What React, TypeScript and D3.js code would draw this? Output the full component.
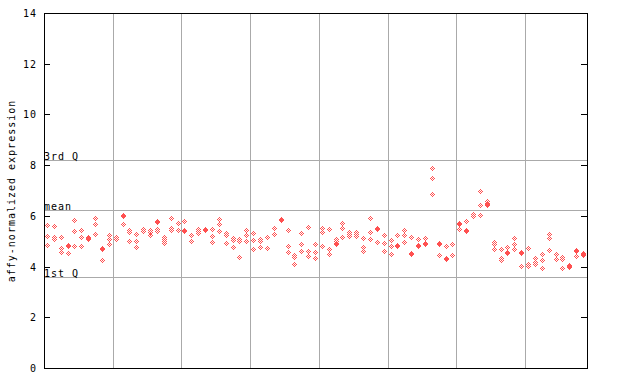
import React from 'react';
import * as d3 from 'd3';

const yTicks = [0, 2, 4, 6, 8, 10, 12, 14];
const statLabels = ['3rd Q', 'mean', '1st Q'];
const statValues = [8.22, 6.23, 3.6];
const gridBreaks = [10, 20, 30, 40, 50, 60, 70];
const yTitle = 'affy-normalized expression';

const samples: number[][] = [
  [5.64, 5.24, 4.88],
  [5.63, 5.18, 5.1],
  [5.19, 4.77, 4.6],
  [4.88, 4.84, 4.56],
  [5.85, 5.44, 4.85],
  [5.48, 5.17, 4.84],
  [5.18, 5.14, 5.1],
  [5.94, 5.71, 5.31],
  [4.76, 4.72, 4.26],
  [5.27, 5.11, 4.92],
  [5.18, 5.11],
  [6.06, 6.02, 5.71],
  [5.47, 5.39, 5.04],
  [5.31, 5.04, 4.8],
  [5.52, 5.44],
  [5.45, 5.37, 5.27],
  [5.82, 5.78, 5.5, 5.42],
  [5.19, 5.11, 5.04, 4.96],
  [5.94, 5.55, 5.47],
  [5.75, 5.47],
  [5.82, 5.46, 5.42],
  [5.27, 5.04],
  [5.51, 5.43, 5.35],
  [5.5, 5.46],
  [5.51, 5.23, 5.0],
  [5.9, 5.71, 5.43],
  [5.35, 5.27, 4.96],
  [5.15, 5.07, 4.8],
  [5.11, 5.04, 4.4],
  [5.47, 5.27, 5.04],
  [5.35, 5.07, 4.72],
  [5.11, 5.04, 4.8],
  [5.19, 4.76],
  [5.55, 5.31],
  [5.89, 5.85],
  [5.47, 4.84, 4.6],
  [4.48, 4.4, 4.13],
  [5.35, 4.92, 4.64],
  [5.59, 4.64, 4.44],
  [4.92, 4.6, 4.37],
  [5.55, 5.39, 4.84],
  [5.51, 4.72, 4.52],
  [5.11, 5.04, 4.96, 4.92],
  [5.75, 5.55, 5.19],
  [5.39, 5.31, 5.23],
  [5.39, 5.31, 5.23],
  [5.15, 4.8, 4.64],
  [5.94, 5.39, 5.11],
  [5.54, 5.5, 5.0],
  [5.27, 4.96, 4.64],
  [5.07, 4.84, 4.52],
  [5.27, 4.88, 4.84],
  [5.47, 5.27, 5.0],
  [5.19, 4.56, 4.52],
  [5.11, 4.88, 4.84],
  [5.15, 4.96, 4.92],
  [7.91, 7.52, 6.89],
  [4.96, 4.92, 4.48],
  [4.84, 4.37, 4.33],
  [4.92, 4.48],
  [5.75, 5.71, 5.51],
  [5.8, 5.47, 5.43],
  [6.1, 6.02],
  [7.01, 6.45, 6.06],
  [6.6, 6.54, 6.48, 6.43],
  [5.0, 4.92, 4.72],
  [4.72, 4.37, 4.29],
  [4.8, 4.6, 4.56],
  [5.15, 4.92, 4.72],
  [4.58, 4.54, 4.05],
  [4.76, 4.13, 4.05],
  [4.37, 4.21, 4.13],
  [4.52, 4.29, 3.97],
  [5.31, 5.15, 4.68],
  [4.52, 4.33],
  [4.4, 4.33, 3.97],
  [4.09, 4.03, 3.99],
  [4.68, 4.64, 4.44],
  [4.56, 4.5, 4.46],
];

const DOT_OFFSETS: [number, number][] = [
  [0, -2], [-1, -1], [1, -1], [-2, 0], [0, 0], [2, 0], [-1, 1], [1, 1], [0, 2],
];

export default function App() {
  const W = 640;
  const H = 384;
  const left = 44;
  const right = 587;

  const gx = d3.scaleLinear().domain([0, samples.length]).range([left, right]);
  const y = d3.scaleLinear().domain([0, 14]).range([368.5, 368.5 - 14 * 25.36]);

  const topRow = Math.floor(y(14));
  const bottomRow = Math.floor(y(0));

  let dotPath = '';
  samples.forEach((vals, i) => {
    const cx = Math.floor(gx(i + 0.5));
    vals.forEach((v) => {
      const cy = Math.round(y(v));
      DOT_OFFSETS.forEach(([dx, dy]) => {
        dotPath += `M${cx + dx},${cy + dy}h1v1h-1z`;
      });
    });
  });

  const font = "'DejaVu Sans Mono', monospace";
  const grid = '#aaaaaa';

  return (
    <svg
      width={W}
      height={H}
      style={{ position: 'absolute', left: 0, top: 0, display: 'block', background: '#fff' }}
      fontFamily={font}
      fontSize={10}
      letterSpacing={1}
    >
      <rect x={0} y={0} width={W} height={H} fill="#fff" />
      {gridBreaks.map((g) => {
        const px = Math.round(gx(g)) + 0.5;
        return <line key={'g' + g} x1={px} x2={px} y1={topRow} y2={bottomRow + 1} stroke={grid} strokeWidth={1} shapeRendering="crispEdges" />;
      })}
      {statValues.map((v, i) => {
        const row = Math.floor(y(v));
        return (
          <g key={'s' + i}>
            <line x1={left} x2={right} y1={row + 0.5} y2={row + 0.5} stroke={grid} strokeWidth={1} shapeRendering="crispEdges" />
            <text x={left} y={row - 0.5} fill="#000">{statLabels[i]}</text>
          </g>
        );
      })}
      <path d={dotPath} fill="#ff5050" shapeRendering="crispEdges" />
      <rect
        x={left + 0.5}
        y={topRow + 0.5}
        width={right - left}
        height={bottomRow - topRow}
        fill="none"
        stroke="#000"
        strokeWidth={1}
        shapeRendering="crispEdges"
      />
      {yTicks.map((t) => {
        const row = Math.floor(y(t));
        return (
          <g key={'t' + t}>
            <line x1={left} x2={left + 6} y1={row + 0.5} y2={row + 0.5} stroke="#000" shapeRendering="crispEdges" />
            <line x1={right - 6} x2={right} y1={row + 0.5} y2={row + 0.5} stroke="#000" shapeRendering="crispEdges" />
            <text x={37} y={row + 4} textAnchor="end" fill="#000">{t}</text>
          </g>
        );
      })}
      <text transform={`translate(15, 191) rotate(-90)`} textAnchor="middle" fill="#000">
        {yTitle}
      </text>
    </svg>
  );
}
